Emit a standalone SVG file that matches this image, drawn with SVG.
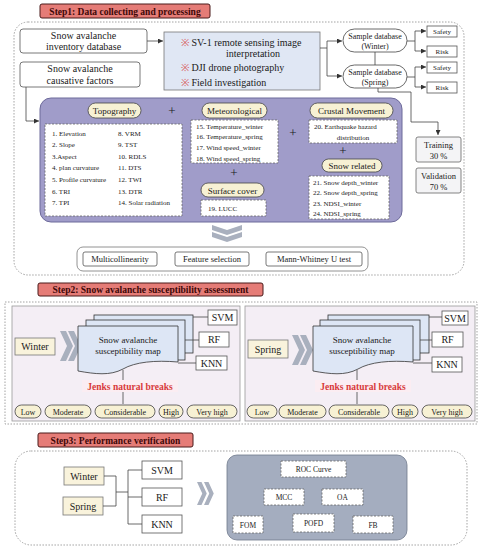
<svg xmlns="http://www.w3.org/2000/svg" width="482" height="550" viewBox="0 0 482 550">
<defs>
<style>
text{font-family:"Liberation Serif","Times New Roman",serif;fill:#1a1a1a}
.t10{font-size:10px}
.t9{font-size:9px}
.t85{font-size:8.5px}
.t8{font-size:8px}
.t75{font-size:7.5px}
.t7{font-size:7px}
.mid{text-anchor:middle}
.title{font-size:9.5px;font-weight:bold;fill:#3d0808}
.tbox{fill:#e57c77;stroke:#4a1a1a;stroke-width:1}
.rbox{fill:#fff;stroke:#555;stroke-width:0.8}
.pill{fill:#f7f1d4;stroke:#444;stroke-width:0.8}
.ybox{fill:#f9f3dc;stroke:#777;stroke-width:0.8}
.dash{fill:#fff;stroke:#666;stroke-width:0.8;stroke-dasharray:2 1.5}
.outer{fill:none;stroke:#999;stroke-width:0.9;stroke-dasharray:1.5 1.5}
.ln{fill:none;stroke:#444;stroke-width:0.8}
.lna{fill:none;stroke:#444;stroke-width:0.8;marker-end:url(#ah)}
.page{fill:#dde6f5;stroke:#333;stroke-width:0.8}
.chev{fill:#a9b0be}
.jenks{font-size:9.5px;font-weight:bold;fill:#d83a3a}
.sym{fill:#d85a5a}
</style>
<marker id="ah" viewBox="0 0 6 6" refX="6" refY="3" markerWidth="5" markerHeight="5" orient="auto" markerUnits="userSpaceOnUse">
<path d="M0,0 L6,3 L0,6 Z" fill="#333"/>
</marker>
<path id="chevR" d="M0,0 L6,0 L13,15 L6,30 L0,30 L7,15 Z"/>
</defs>

<!-- STEP 1 -->
<g id="step1-frame">
<rect x="14" y="22" width="450" height="253" rx="14" class="outer"/>
</g>
<g id="step1-title">
<rect x="40" y="4" width="170" height="14" rx="2" class="tbox"/>
<text x="125" y="14.5" class="title mid">Step1: Data collecting and processing</text>
</g>
<g id="inventory">
<rect x="20" y="29" width="127" height="24" rx="3" class="rbox"/>
<text x="83.5" y="39" class="t10 mid">Snow avalanche</text>
<text x="83.5" y="50" class="t10 mid">inventory database</text>
</g>
<g id="sources">
<rect x="164" y="32" width="156" height="58" fill="#e0e7f4" stroke="#777" stroke-width="0.8"/>
<text x="181" y="46" class="t10"><tspan class="sym">※</tspan> SV-1 remote sensing image</text>
<text x="253" y="57" class="t10 mid">interpretation</text>
<text x="181" y="71" class="t10"><tspan class="sym">※</tspan> DJI drone photography</text>
<text x="181" y="86" class="t10"><tspan class="sym">※</tspan> Field investigation</text>
</g>
<g id="causative">
<rect x="20" y="62" width="120" height="25" rx="3" class="rbox"/>
<text x="80" y="72" class="t10 mid">Snow avalanche</text>
<text x="80" y="84" class="t10 mid">causative factors</text>
</g>
<g id="sample-winter">
<rect x="343" y="29" width="64" height="23" rx="11.5" fill="#fff" stroke="#444" stroke-width="0.8"/>
<text x="375" y="39" class="t8 mid">Sample database</text>
<text x="375" y="49" class="t8 mid">(Winter)</text>
</g>
<g id="sample-spring">
<rect x="343" y="65" width="64" height="23" rx="11.5" fill="#fff" stroke="#444" stroke-width="0.8"/>
<text x="375" y="75" class="t8 mid">Sample database</text>
<text x="375" y="85" class="t8 mid">(Spring)</text>
</g>
<g id="safety1"><rect x="427" y="26" width="30" height="11" class="rbox"/><text x="442" y="34" class="t7 mid">Safety</text></g>
<g id="risk1"><rect x="427" y="46" width="30" height="11" class="rbox"/><text x="442" y="54" class="t7 mid">Risk</text></g>
<g id="safety2"><rect x="427" y="62" width="30" height="11" class="rbox"/><text x="442" y="70" class="t7 mid">Safety</text></g>
<g id="risk2"><rect x="427" y="82" width="30" height="11" class="rbox"/><text x="442" y="90" class="t7 mid">Risk</text></g>
<g id="training">
<rect x="416" y="137" width="45" height="25" rx="2" fill="#f4f4f6" stroke="#666" stroke-width="0.8"/>
<text x="438.5" y="148" class="t85 mid">Training</text>
<text x="438.5" y="159" class="t85 mid">30 %</text>
</g>
<g id="validation">
<rect x="416" y="168" width="45" height="25" rx="2" fill="#f4f4f6" stroke="#666" stroke-width="0.8"/>
<text x="438.5" y="179" class="t85 mid">Validation</text>
<text x="438.5" y="190" class="t85 mid">70 %</text>
</g>

<g id="factors-panel">
<rect x="40" y="98" width="362" height="124" rx="11" fill="#a09cc9" stroke="#6d6a9a" stroke-width="1"/>
<text x="172" y="115" font-size="13" class="mid">+</text>
<text x="293" y="137" font-size="13" class="mid">+</text>
<text x="234" y="177" font-size="13" class="mid">+</text>
<text x="343" y="155" font-size="13" class="mid">+</text>
</g>
<g id="topography">
<rect x="88" y="103" width="53" height="15" rx="7.5" class="pill"/>
<text x="114.5" y="114" class="t9 mid">Topography</text>
<rect x="45" y="124" width="137" height="92" class="dash"/>
<text x="52" y="136" class="t7">1. Elevation</text>
<text x="52" y="147" class="t7">2. Slope</text>
<text x="52" y="159" class="t7">3.Aspect</text>
<text x="52" y="170" class="t7">4. plan curvature</text>
<text x="52" y="182" class="t7">5. Profile curvature</text>
<text x="52" y="194" class="t7">6. TRI</text>
<text x="52" y="205" class="t7">7. TPI</text>
<text x="118" y="136" class="t7">8. VRM</text>
<text x="118" y="147" class="t7">9. TST</text>
<text x="118" y="159" class="t7">10. RDLS</text>
<text x="118" y="170" class="t7">11. DTS</text>
<text x="118" y="182" class="t7">12. TWI</text>
<text x="118" y="194" class="t7">13. DTR</text>
<text x="118" y="205" class="t7">14. Solar radiation</text>
</g>
<g id="meteorological">
<rect x="202" y="103" width="65" height="15" rx="7.5" class="pill"/>
<text x="234.5" y="114" class="t9 mid">Meteorological</text>
<rect x="191" y="120" width="87" height="43" class="dash"/>
<text x="196" y="128.5" class="t7">15. Temperature_winter</text>
<text x="196" y="139" class="t7">16. Temperature_spring</text>
<text x="196" y="150" class="t7">17. Wind speed_winter</text>
<text x="196" y="160.5" class="t7">18. Wind speed_spring</text>
</g>
<g id="surface-cover">
<rect x="201" y="183" width="63" height="14" rx="7" class="pill"/>
<text x="232.5" y="193.5" class="t9 mid">Surface cover</text>
<rect x="201" y="200" width="65" height="16" class="dash"/>
<text x="208" y="211" class="t7">19. LUCC</text>
</g>
<g id="crustal">
<rect x="310" y="103" width="83" height="15" rx="7.5" class="pill"/>
<text x="351.5" y="114" class="t9 mid">Crustal Movement</text>
<rect x="309" y="120" width="88" height="23" class="dash"/>
<text x="314" y="129" class="t7">20. Earthquake hazard</text>
<text x="353" y="140" class="t7 mid">distribution</text>
</g>
<g id="snow-related">
<rect x="322" y="159" width="60" height="13" rx="6.5" class="pill"/>
<text x="352" y="168.5" class="t9 mid">Snow related</text>
<rect x="309" y="176" width="80" height="43" class="dash"/>
<text x="313" y="184.5" class="t7">21. Snow depth_winter</text>
<text x="313" y="195" class="t7">22. Snow depth_spring</text>
<text x="313" y="205.5" class="t7">23. NDSI_winter</text>
<text x="313" y="216" class="t7">24. NDSI_spring</text>
</g>
<g id="down-chevron">
<path d="M212,225 L227,230 L242,225 L242,230 L227,235 L212,230 Z" class="chev"/>
<path d="M212,232 L227,237 L242,232 L242,237 L227,242 L212,237 Z" class="chev"/>
</g>
<g id="analysis">
<rect x="77" y="247" width="291" height="24" rx="6" fill="#fff" stroke="#777" stroke-width="0.8"/>
<rect x="83" y="252" width="74" height="14" rx="2" class="rbox"/>
<text x="120" y="262" class="t85 mid">Multicollinearity</text>
<rect x="175" y="252" width="74" height="14" rx="2" class="rbox"/>
<text x="212" y="262" class="t85 mid">Feature selection</text>
<rect x="266" y="252" width="96" height="14" rx="2" class="rbox"/>
<text x="314" y="262" class="t85 mid">Mann-Whitney U test</text>
</g>

<g id="step1-connectors">
<path d="M147,41 H163" class="lna"/>
<path d="M320,48 H327" class="ln"/>
<path d="M327,41 V76" class="ln"/>
<path d="M327,41 H342" class="lna"/>
<path d="M327,76 H342" class="lna"/>
<path d="M375,52 V65" class="ln"/>
<path d="M407,41 H415 M415,31 V51" class="ln"/>
<path d="M415,31 H426" class="lna"/>
<path d="M415,51 H426" class="lna"/>
<path d="M407,77 H415 M415,67 V87" class="ln"/>
<path d="M415,67 H426" class="lna"/>
<path d="M415,87 H426" class="lna"/>
<path d="M378,88 V92 H411 V122 H438 V135" class="lna"/>
<path d="M26,87 V121 H39" class="lna"/>
</g>

<!-- STEP 2 -->
<g id="step2-title">
<rect x="38" y="283" width="225" height="13" rx="2" class="tbox"/>
<text x="150.5" y="293" class="title mid">Step2: Snow avalanche susceptibility assessment</text>
</g>
<g id="step2-frame">
<rect x="5" y="302" width="472" height="122" class="outer"/>
</g>
<g id="winter-panel">
<rect x="12" y="306" width="228" height="115" fill="#f4eef5" stroke="#999" stroke-width="0.8"/>
<rect x="15" y="338" width="40" height="17" class="ybox"/>
<text x="35" y="350" class="t10 mid">Winter</text>
<use href="#chevR" x="60" y="331" class="chev"/>
<use href="#chevR" x="68" y="331" class="chev"/>
<rect x="94" y="315" width="99" height="38" class="page"/>
<rect x="86" y="320" width="99" height="40" class="page"/>
<path d="M78,326 H178 V362 C155,360 135,362 123,369 C110,376 95,374 78,371 Z" class="page"/>
<text x="128" y="343" class="t9 mid">Snow avalanche</text>
<text x="128" y="354" class="t9 mid">susceptibility map</text>
<rect x="208" y="310" width="29" height="15" class="rbox"/>
<text x="222.5" y="321" class="t10 mid">SVM</text>
<rect x="199" y="332" width="30" height="15" class="rbox"/>
<text x="214" y="343" class="t10 mid">RF</text>
<rect x="196" y="356" width="31" height="14" class="rbox"/>
<text x="211.5" y="366.5" class="t10 mid">KNN</text>
<path d="M193,317 H208 M185,340 H199 M178,363 H196" class="ln"/>
<path d="M123,370 V404" class="ln"/>
<rect x="82" y="380" width="96" height="12" fill="#fbedf2"/>
<text x="130" y="389.5" class="jenks mid">Jenks natural breaks</text>
<rect x="15" y="405" width="26" height="13" rx="6.5" class="pill"/>
<text x="28" y="414.5" class="t8 mid">Low</text>
<rect x="45" y="405" width="46" height="13" rx="6.5" class="pill"/>
<text x="68" y="414.5" class="t8 mid">Moderate</text>
<rect x="95" y="405" width="60" height="13" rx="6.5" class="pill"/>
<text x="125" y="414.5" class="t8 mid">Considerable</text>
<rect x="159" y="405" width="24" height="13" rx="6.5" class="pill"/>
<text x="171" y="414.5" class="t8 mid">High</text>
<rect x="187" y="405" width="50" height="13" rx="6.5" class="pill"/>
<text x="212" y="414.5" class="t8 mid">Very high</text>
</g>
<g id="spring-panel">
<rect x="245" y="306" width="230" height="115" fill="#f4eef5" stroke="#999" stroke-width="0.8"/>
<rect x="248" y="340" width="40" height="18" class="ybox"/>
<text x="268" y="352.5" class="t10 mid">Spring</text>
<use href="#chevR" x="292" y="335" class="chev"/>
<use href="#chevR" x="300" y="335" class="chev"/>
<rect x="328" y="315" width="101" height="38" class="page"/>
<rect x="320" y="320" width="100" height="40" class="page"/>
<path d="M313,326 H413 V362 C390,360 370,362 358,369 C345,376 330,374 313,371 Z" class="page"/>
<text x="362" y="343" class="t9 mid">Snow avalanche</text>
<text x="362" y="354" class="t9 mid">susceptibility map</text>
<rect x="442" y="311" width="26" height="14" class="rbox"/>
<text x="455" y="321.5" class="t10 mid">SVM</text>
<rect x="432" y="332" width="31" height="15" class="rbox"/>
<text x="447.5" y="343" class="t10 mid">RF</text>
<rect x="432" y="357" width="30" height="15" class="rbox"/>
<text x="447" y="368" class="t10 mid">KNN</text>
<path d="M429,317 H442 M420,340 H432 M413,363 H432" class="ln"/>
<path d="M357,370 V404" class="ln"/>
<rect x="315" y="380" width="96" height="12" fill="#fbedf2"/>
<text x="363" y="389.5" class="jenks mid">Jenks natural breaks</text>
<rect x="247" y="405" width="30" height="13" rx="6.5" class="pill"/>
<text x="262" y="414.5" class="t8 mid">Low</text>
<rect x="279" y="405" width="47" height="13" rx="6.5" class="pill"/>
<text x="302.5" y="414.5" class="t8 mid">Moderate</text>
<rect x="329" y="405" width="60" height="13" rx="6.5" class="pill"/>
<text x="359" y="414.5" class="t8 mid">Considerable</text>
<rect x="392" y="405" width="26" height="13" rx="6.5" class="pill"/>
<text x="405" y="414.5" class="t8 mid">High</text>
<rect x="422" y="405" width="50" height="13" rx="6.5" class="pill"/>
<text x="447" y="414.5" class="t8 mid">Very high</text>
</g>

<!-- STEP 3 -->
<g id="step3-title">
<rect x="38" y="433" width="155" height="14" rx="2" class="tbox"/>
<text x="115.5" y="443.5" class="title mid">Step3: Performance verification</text>
</g>
<g id="step3-frame">
<rect x="15" y="451" width="452" height="94" rx="16" class="outer"/>
</g>
<g id="s3-winter"><rect x="64" y="467" width="40" height="18" class="ybox"/><text x="84" y="479.5" class="t10 mid">Winter</text></g>
<g id="s3-spring"><rect x="63" y="497" width="40" height="18" class="ybox"/><text x="83" y="509.5" class="t10 mid">Spring</text></g>
<g id="s3-svm"><rect x="142" y="461" width="40" height="18" class="rbox"/><text x="162" y="473.5" class="t10 mid">SVM</text></g>
<g id="s3-rf"><rect x="142" y="488" width="40" height="18" class="rbox"/><text x="162" y="500.5" class="t10 mid">RF</text></g>
<g id="s3-knn"><rect x="142" y="515" width="40" height="18" class="rbox"/><text x="162" y="527.5" class="t10 mid">KNN</text></g>
<g id="s3-connectors">
<path d="M104,476 H116 V506 H103 M116,492 H128 M128,470 V524 M128,470 H142 M128,497 H142 M128,524 H142" class="ln"/>
</g>
<g id="s3-chevron">
<use href="#chevR" x="197" y="482" transform="translate(197 482) scale(0.75 0.77) translate(-197 -482)" class="chev"/>
<use href="#chevR" x="204" y="482" transform="translate(204 482) scale(0.75 0.77) translate(-204 -482)" class="chev"/>
</g>
<g id="metrics-panel">
<rect x="227" y="455" width="180" height="85" rx="10" fill="#a4adbf" stroke="#6e788c" stroke-width="0.8"/>
<rect x="281" y="461" width="65" height="16" class="dash"/>
<text x="313.5" y="472" class="t75 mid">ROC Curve</text>
<rect x="264" y="489" width="40" height="16" class="dash"/>
<text x="284" y="500" class="t75 mid">MCC</text>
<rect x="322" y="489" width="41" height="16" class="dash"/>
<text x="342.5" y="500" class="t75 mid">OA</text>
<rect x="233" y="516" width="30" height="17" class="dash"/>
<text x="248" y="527.5" class="t75 mid">FOM</text>
<rect x="293" y="514" width="41" height="18" class="dash"/>
<text x="313.5" y="525.5" class="t75 mid">POFD</text>
<rect x="353" y="516" width="40" height="17" class="dash"/>
<text x="373" y="527.5" class="t75 mid">FB</text>
</g>
</svg>
